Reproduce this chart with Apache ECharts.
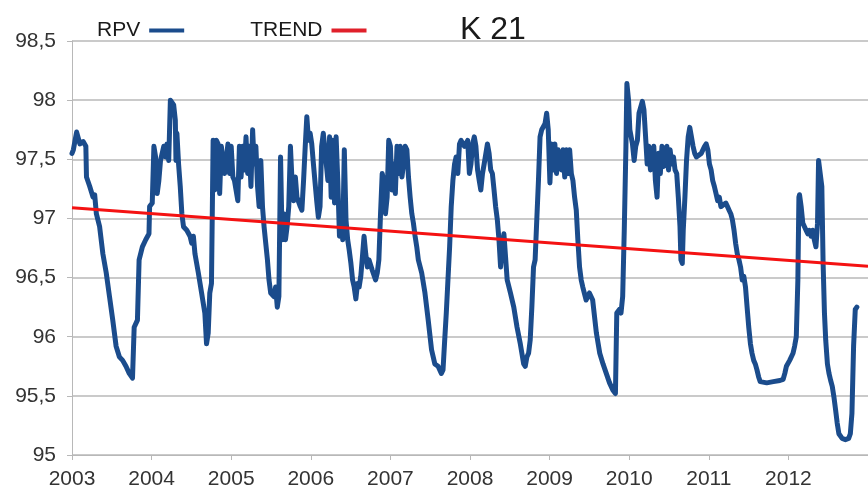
<!DOCTYPE html>
<html>
<head>
<meta charset="utf-8">
<title>K 21</title>
<script src="https://cdn.jsdelivr.net/npm/echarts@6/dist/echarts.min.js"></script>
<style>
  html, body { margin: 0; padding: 0; background: #ffffff; }
  #chart { width: 868px; height: 491px; }
</style>
</head>
<body>
<div id="chart"></div>
<script>
// Axis ranges and labels
const yearMin = 2003;
const yearMax = 2013;
const yTicks = [95, 95.5, 96, 96.5, 97, 97.5, 98, 98.5];

// Weekly RPV readings: [decimal year, value]
const rpv = [
  [2003.000, 97.55], [2003.017, 97.58], [2003.058, 97.73], [2003.099, 97.63], [2003.140, 97.65],
  [2003.174, 97.61], [2003.182, 97.35], [2003.223, 97.27], [2003.264, 97.18], [2003.285, 97.20],
  [2003.306, 97.04], [2003.347, 96.93], [2003.388, 96.70], [2003.430, 96.54], [2003.471, 96.34],
  [2003.512, 96.14], [2003.554, 95.92], [2003.595, 95.83], [2003.636, 95.80], [2003.678, 95.75],
  [2003.719, 95.69], [2003.760, 95.65], [2003.781, 96.08], [2003.822, 96.14], [2003.843, 96.65],
  [2003.884, 96.76], [2003.926, 96.82], [2003.967, 96.87], [2003.975, 97.10], [2004.008, 97.13],
  [2004.029, 97.61], [2004.050, 97.52], [2004.070, 97.21], [2004.091, 97.32], [2004.112, 97.49],
  [2004.153, 97.61], [2004.174, 97.52], [2004.194, 97.63], [2004.215, 97.49], [2004.236, 98.00],
  [2004.277, 97.96], [2004.298, 97.83], [2004.306, 97.49], [2004.318, 97.72], [2004.339, 97.46],
  [2004.360, 97.27], [2004.380, 97.04], [2004.401, 96.93], [2004.442, 96.90], [2004.483, 96.85],
  [2004.504, 96.79], [2004.525, 96.85], [2004.545, 96.70], [2004.587, 96.54], [2004.628, 96.37],
  [2004.669, 96.20], [2004.690, 95.94], [2004.711, 96.03], [2004.731, 96.37], [2004.752, 96.45],
  [2004.773, 97.66], [2004.793, 97.24], [2004.814, 97.66], [2004.835, 97.63], [2004.855, 97.21],
  [2004.876, 97.61], [2004.917, 97.38], [2004.959, 97.63], [2004.979, 97.38], [2005.000, 97.61],
  [2005.021, 97.35], [2005.041, 97.32], [2005.083, 97.15], [2005.103, 97.61], [2005.124, 97.35],
  [2005.145, 97.61], [2005.165, 97.41], [2005.186, 97.69], [2005.207, 97.38], [2005.227, 97.61],
  [2005.248, 97.27], [2005.269, 97.75], [2005.289, 97.46], [2005.310, 97.61], [2005.331, 97.27],
  [2005.351, 97.10], [2005.372, 97.49], [2005.393, 97.10], [2005.413, 96.93], [2005.434, 96.79],
  [2005.455, 96.65], [2005.475, 96.48], [2005.496, 96.37], [2005.537, 96.34], [2005.558, 96.42],
  [2005.579, 96.25], [2005.599, 96.34], [2005.620, 97.52], [2005.640, 96.82], [2005.661, 97.04],
  [2005.682, 96.82], [2005.702, 96.93], [2005.723, 97.10], [2005.744, 97.61], [2005.764, 97.32],
  [2005.785, 97.15], [2005.806, 97.35], [2005.826, 97.18], [2005.868, 97.10], [2005.888, 97.07],
  [2005.909, 97.32], [2005.930, 97.61], [2005.950, 97.86], [2005.971, 97.66], [2005.992, 97.72],
  [2006.012, 97.63], [2006.033, 97.46], [2006.054, 97.30], [2006.074, 97.15], [2006.095, 97.01],
  [2006.116, 97.10], [2006.136, 97.61], [2006.157, 97.72], [2006.215, 97.32], [2006.236, 97.69],
  [2006.256, 97.18], [2006.277, 97.66], [2006.298, 97.13], [2006.318, 97.69], [2006.339, 97.32],
  [2006.360, 96.85], [2006.380, 97.04], [2006.401, 96.82], [2006.421, 97.58], [2006.442, 96.99],
  [2006.463, 96.82], [2006.483, 96.73], [2006.504, 96.62], [2006.525, 96.48], [2006.545, 96.42],
  [2006.566, 96.32], [2006.587, 96.45], [2006.607, 96.42], [2006.628, 96.51], [2006.649, 96.68],
  [2006.669, 96.85], [2006.690, 96.70], [2006.711, 96.59], [2006.731, 96.65], [2006.773, 96.56],
  [2006.814, 96.48], [2006.835, 96.54], [2006.855, 96.65], [2006.876, 97.04], [2006.897, 97.38],
  [2006.917, 97.32], [2006.938, 97.04], [2006.959, 97.18], [2006.979, 97.66], [2007.000, 97.61],
  [2007.021, 97.24], [2007.041, 97.46], [2007.062, 97.21], [2007.083, 97.61], [2007.103, 97.38],
  [2007.124, 97.61], [2007.145, 97.35], [2007.165, 97.46], [2007.186, 97.61], [2007.207, 97.58],
  [2007.227, 97.35], [2007.248, 97.18], [2007.269, 97.04], [2007.289, 96.96], [2007.310, 96.85],
  [2007.331, 96.76], [2007.351, 96.65], [2007.393, 96.54], [2007.434, 96.37], [2007.475, 96.14],
  [2007.517, 95.89], [2007.558, 95.77], [2007.599, 95.75], [2007.640, 95.69], [2007.661, 95.72],
  [2007.682, 95.97], [2007.702, 96.20], [2007.723, 96.48], [2007.744, 96.76], [2007.764, 97.10],
  [2007.785, 97.32], [2007.806, 97.46], [2007.826, 97.52], [2007.847, 97.38], [2007.868, 97.63],
  [2007.888, 97.66], [2007.930, 97.61], [2007.971, 97.66], [2007.992, 97.38], [2008.012, 97.46],
  [2008.033, 97.63], [2008.054, 97.69], [2008.074, 97.61], [2008.095, 97.41], [2008.116, 97.32],
  [2008.136, 97.24], [2008.157, 97.38], [2008.178, 97.46], [2008.219, 97.63], [2008.240, 97.55],
  [2008.260, 97.41], [2008.281, 97.38], [2008.302, 97.24], [2008.322, 97.10], [2008.343, 96.99],
  [2008.364, 96.82], [2008.384, 96.59], [2008.405, 96.76], [2008.426, 96.87], [2008.446, 96.68],
  [2008.467, 96.48], [2008.488, 96.48], [2008.508, 96.37], [2008.550, 96.25], [2008.591, 96.08],
  [2008.632, 95.94], [2008.674, 95.77], [2008.694, 95.75], [2008.715, 95.83], [2008.736, 95.86],
  [2008.756, 95.97], [2008.777, 96.25], [2008.798, 96.59], [2008.818, 96.65], [2008.839, 96.99],
  [2008.860, 97.32], [2008.880, 97.69], [2008.901, 97.75], [2008.942, 97.80], [2008.963, 97.89],
  [2008.983, 97.75], [2009.004, 97.30], [2009.025, 97.63], [2009.045, 97.41], [2009.066, 97.63],
  [2009.087, 97.38], [2009.107, 97.58], [2009.128, 97.49], [2009.149, 97.41], [2009.169, 97.58],
  [2009.190, 97.35], [2009.211, 97.58], [2009.231, 97.38], [2009.252, 97.58], [2009.273, 97.38],
  [2009.293, 97.32], [2009.314, 97.18], [2009.335, 97.07], [2009.355, 96.82], [2009.376, 96.59],
  [2009.397, 96.48], [2009.417, 96.42], [2009.459, 96.31], [2009.500, 96.37], [2009.541, 96.31],
  [2009.588, 96.03], [2009.630, 95.86], [2009.671, 95.77], [2009.712, 95.69], [2009.753, 95.61],
  [2009.794, 95.55], [2009.827, 95.52], [2009.844, 96.20], [2009.877, 96.23], [2009.897, 96.20],
  [2009.918, 96.34], [2009.938, 96.90], [2009.959, 97.61], [2009.971, 98.14], [2009.992, 98.00],
  [2010.008, 97.75], [2010.041, 97.63], [2010.062, 97.49], [2010.082, 97.61], [2010.103, 97.66],
  [2010.123, 97.89], [2010.165, 97.99], [2010.185, 97.92], [2010.206, 97.69], [2010.226, 97.46],
  [2010.247, 97.61], [2010.267, 97.41], [2010.288, 97.52], [2010.309, 97.61], [2010.329, 97.32],
  [2010.350, 97.18], [2010.370, 97.55], [2010.391, 97.38], [2010.412, 97.61], [2010.432, 97.44],
  [2010.453, 97.58], [2010.473, 97.61], [2010.494, 97.41], [2010.514, 97.58], [2010.535, 97.46],
  [2010.556, 97.52], [2010.576, 97.41], [2010.597, 97.38], [2010.617, 97.18], [2010.638, 96.93],
  [2010.650, 96.65], [2010.667, 96.62], [2010.679, 96.90], [2010.700, 97.18], [2010.720, 97.49],
  [2010.741, 97.69], [2010.761, 97.77], [2010.782, 97.69], [2010.802, 97.61], [2010.823, 97.55],
  [2010.844, 97.52], [2010.864, 97.51], [2010.905, 97.55], [2010.947, 97.61], [2010.967, 97.63],
  [2010.988, 97.58], [2011.008, 97.46], [2011.029, 97.41], [2011.049, 97.32], [2011.070, 97.27],
  [2011.091, 97.21], [2011.111, 97.15], [2011.132, 97.18], [2011.152, 97.10], [2011.173, 97.10],
  [2011.214, 97.13], [2011.235, 97.10], [2011.255, 97.07], [2011.276, 97.04], [2011.296, 96.99],
  [2011.317, 96.90], [2011.337, 96.79], [2011.358, 96.70], [2011.379, 96.65], [2011.399, 96.59],
  [2011.420, 96.48], [2011.440, 96.51], [2011.461, 96.42], [2011.481, 96.25], [2011.502, 96.08],
  [2011.523, 95.94], [2011.543, 95.86], [2011.564, 95.80], [2011.584, 95.77], [2011.605, 95.72],
  [2011.626, 95.66], [2011.646, 95.62], [2011.667, 95.61], [2011.728, 95.61], [2011.811, 95.62],
  [2011.893, 95.63], [2011.934, 95.64], [2011.955, 95.69], [2011.975, 95.75], [2012.016, 95.80],
  [2012.058, 95.86], [2012.078, 95.92], [2012.099, 96.00], [2012.119, 96.48], [2012.132, 97.18],
  [2012.140, 97.20], [2012.160, 97.10], [2012.181, 96.96], [2012.202, 96.93], [2012.222, 96.90],
  [2012.243, 96.87], [2012.263, 96.90], [2012.284, 96.85], [2012.305, 96.90], [2012.325, 96.82],
  [2012.346, 96.76], [2012.366, 96.96], [2012.379, 97.49], [2012.399, 97.49], [2012.420, 97.27],
  [2012.436, 96.62], [2012.453, 96.20], [2012.469, 95.97], [2012.490, 95.77], [2012.510, 95.69],
  [2012.531, 95.63], [2012.551, 95.58], [2012.572, 95.49], [2012.593, 95.38], [2012.613, 95.27],
  [2012.634, 95.18], [2012.675, 95.14], [2012.716, 95.13], [2012.757, 95.14], [2012.778, 95.18],
  [2012.798, 95.35], [2012.819, 95.92], [2012.840, 96.23], [2012.860, 96.25]
];

// Linear trend endpoints
const trend = [[2003, 97.09], [2013, 96.595]];

const labelFont = 'Liberation Sans, Arial, sans-serif';
const labelColor = '#333333';
const gridColor = '#b8b8b8';

const chart = echarts.init(document.getElementById('chart'), null, { renderer: 'canvas' });

chart.setOption({
  backgroundColor: '#ffffff',
  animation: false,
  title: {
    text: 'K 21',
    left: 455,
    top: 9,
    textStyle: { fontFamily: labelFont, fontSize: 32, fontWeight: 'normal', color: '#1a1a1a' }
  },
  legend: {
    left: 92,
    top: 15,
    align: 'right',
    icon: 'rect',
    itemWidth: 35,
    itemHeight: 4,
    itemGap: 66,
    textStyle: { fontFamily: labelFont, fontSize: 21, color: '#1a1a1a', padding: [0, 4, 4, 0] },
    data: ['RPV', 'TREND']
  },
  grid: { left: 72, top: 41, width: 807, height: 414 },
  xAxis: {
    type: 'value',
    min: yearMin,
    max: yearMax,
    interval: 1,
    axisLine: { show: true, lineStyle: { color: gridColor, width: 1 } },
    axisTick: { show: true, length: 5, lineStyle: { color: gridColor } },
    splitLine: { show: false },
    axisLabel: {
      showMaxLabel: false,
      margin: 14,
      fontFamily: labelFont,
      fontSize: 21,
      color: labelColor,
      formatter: v => String(v)
    }
  },
  yAxis: {
    type: 'value',
    min: yTicks[0],
    max: yTicks[yTicks.length - 1],
    interval: 0.5,
    axisLine: { show: true, lineStyle: { color: gridColor, width: 1 } },
    axisTick: { show: true, length: 5, lineStyle: { color: gridColor } },
    splitLine: { show: true, lineStyle: { color: gridColor, width: 1.5 } },
    axisLabel: {
      margin: 16,
      fontFamily: labelFont,
      fontSize: 21,
      color: labelColor,
      formatter: v => String(v).replace('.', ',')
    }
  },
  series: [
    {
      name: 'RPV',
      type: 'line',
      data: rpv,
      showSymbol: false,
      symbol: 'none',
      lineStyle: { color: '#1b4c8c', width: 5, join: 'round', cap: 'round' },
      itemStyle: { color: '#1b4c8c' }
    },
    {
      name: 'TREND',
      type: 'line',
      data: trend,
      showSymbol: false,
      symbol: 'none',
      lineStyle: { color: '#f41212', width: 3 },
      itemStyle: { color: '#e0202a' }
    }
  ]
});
</script>
</body>
</html>
